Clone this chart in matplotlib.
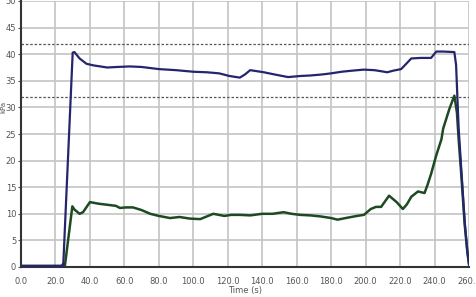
import matplotlib
matplotlib.use("Agg")
import matplotlib.pyplot as plt

plt.rcParams['font.family'] = ['Liberation Sans Narrow', 'DejaVu Sans']

# Pressure series 1 (blue)
blue_t = [0, 24.5, 30, 31, 34, 38, 42, 50, 56, 63, 70, 80, 90, 100, 108, 115, 121, 127,
          130, 133, 137, 141, 147, 155, 162, 168, 175, 180, 186, 192, 199, 205, 209, 212.5,
          216, 220.6, 223, 226.5, 232, 238, 241, 245, 251.5, 252.5, 254, 255.6, 257.5, 259, 260]
blue_v = [0.2, 0.2, 40.3, 40.4, 39.2, 38.2, 37.9, 37.5, 37.6, 37.7, 37.6, 37.2, 37.0, 36.7,
          36.6, 36.4, 35.9, 35.6, 36.2, 37.0, 36.8, 36.6, 36.2, 35.7, 35.9, 36.0, 36.2, 36.4,
          36.7, 36.9, 37.1, 37.0, 36.8, 36.6, 36.9, 37.2, 38.0, 39.2, 39.3, 39.3, 40.5, 40.5,
          40.4, 38.0, 26.0, 18.0, 8.5, 3.0, 0.5]

# Pressure series 2 (green)
green_t = [0, 23.5, 24.5, 25.5, 29.8, 31, 34, 36, 40, 45, 50, 55, 57.4, 61, 65, 70, 75, 80,
           86.5, 92, 98, 104, 111.6, 118, 122, 127, 133, 140, 146, 152.4, 157, 162, 168, 174,
           180, 183.7, 190, 195, 199, 203, 206, 209, 213.6, 218, 221.6, 224, 226.5, 230.4,
           234.2, 236, 238, 241, 244, 245, 248.6, 251.5, 253, 254, 255.6, 257.5, 259, 260]
green_v = [0.2, 0.2, 0.6, 0.3, 11.4, 10.8, 10.0, 10.3, 12.2, 11.9, 11.7, 11.5, 11.1, 11.2,
           11.2, 10.7, 10.0, 9.6, 9.2, 9.4, 9.1, 9.0, 10.0, 9.6, 9.8, 9.8, 9.7, 10.0, 10.0,
           10.3, 10.0, 9.8, 9.7, 9.5, 9.2, 8.9, 9.3, 9.6, 9.8, 10.9, 11.3, 11.3, 13.4, 12.2,
           10.9, 11.8, 13.2, 14.2, 13.9, 15.5, 17.5, 21.0, 24.0, 26.0, 29.7, 32.2, 29.0, 24.0,
           17.0, 8.0, 3.0, 0.5]

limit_lines = [42, 32]
x_ticks = [0, 20, 40, 60, 80, 100, 120, 140, 160, 180, 200, 220, 240, 260]
y_ticks = [0, 5, 10, 15, 20, 25, 30, 35, 40, 45, 50]

fig = plt.figure(figsize=(4.77, 2.97), dpi=100)
ax = fig.add_axes([21 / 477, 1 - 267 / 297, 448 / 477, 266 / 297])
ax.set_xlim(0, 260)
ax.set_ylim(0, 50)
ax.set_xticks(x_ticks)
ax.set_xticklabels([f"{v:.1f}" for v in x_ticks])
ax.set_yticks(y_ticks)
ax.grid(True, color='#c4c4c4', linewidth=1.2)
ax.set_axisbelow(True)
for s in ['top', 'right']:
    ax.spines[s].set_visible(False)
for s in ['left', 'bottom']:
    ax.spines[s].set_color('#333333')
    ax.spines[s].set_linewidth(1.5)
ax.tick_params(axis='both', labelsize=6, colors='#555555', labelcolor='#555555')
ax.tick_params(axis='x', length=0, pad=7)
ax.tick_params(axis='y', length=2, pad=1.5)

for v in limit_lines:
    ax.axhline(v, color='#555555', linestyle=(0, (2, 1.5)), linewidth=0.9, zorder=2)

ax.plot(green_t, green_v, color='#1d4a22', linewidth=1.8, zorder=3)
ax.plot(blue_t, blue_v, color='#25256e', linewidth=1.6, zorder=4)

fig.text(245 / 477, 1 - 291 / 297, "Time (s)", ha='center', va='center', fontsize=6, color='#555555')
fig.text(3 / 477, 1 - 107 / 297, "kPa", ha='center', va='center', rotation=90, fontsize=5, color='#555555')

fig.savefig("out.png", dpi=100)
